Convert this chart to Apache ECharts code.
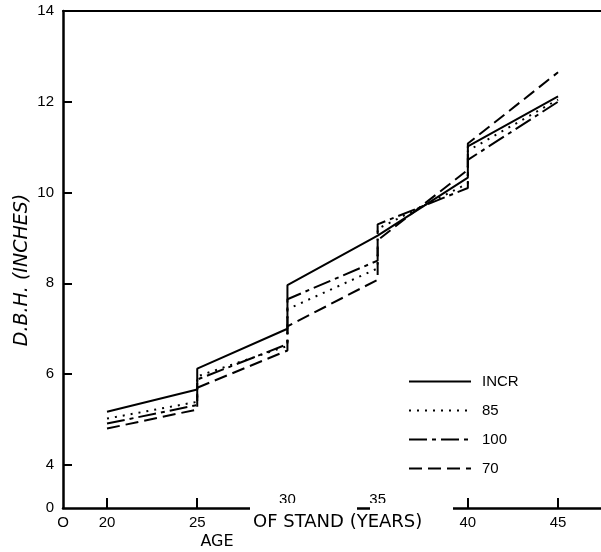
<!DOCTYPE html>
<html>
<head>
<meta charset="utf-8">
<script src="https://cdn.jsdelivr.net/npm/echarts@6/dist/echarts.min.js"></script>
<style>html,body{margin:0;padding:0;background:#fff}#c{width:601px;height:552px}</style>
</head>
<body>
<div id="c"></div>
<script>
// ---- data ----
const years = [20, 25, 25, 30, 30, 35, 35, 40, 40, 45];
const seriesNames = ['INCR', '85', '100', '70'];
const incr = [5.17, 5.66, 6.12, 7.00, 7.96, 9.05, 9.05, 10.33, 11.02, 12.12];
const s85  = [5.02, 5.39, 5.95, 6.62, 7.43, 8.33, 9.20, 10.20, 10.92, 12.05];
const s100 = [4.91, 5.32, 5.88, 6.66, 7.65, 8.50, 9.30, 10.10, 10.72, 12.00];
const s70  = [4.80, 5.22, 5.70, 6.52, 7.05, 8.08, 8.95, 10.50, 11.08, 12.65];
const xTicks = [20, 25, 30, 35, 40, 45];
const yTicks = [4, 6, 8, 10, 12, 14];
const xOriginLabel = 'O';
const yOriginLabel = '0';

// broken-axis origins
const X_MIN = 17.56, X_MAX = 47.38;
const Y_MIN = 3.05, Y_MAX = 14;

const font = 'Liberation Sans';
const pair = arr => years.map((x, i) => [x, arr[i]]);

const chart = echarts.init(document.getElementById('c'), null, {renderer: 'canvas'});
const lineBase = {type: 'line', symbol: 'none', smooth: false, animation: false, xAxisIndex: 0, yAxisIndex: 0};

chart.setOption({
  animation: false,
  backgroundColor: '#fff',
  grid: {left: 63, right: 0, top: 11, bottom: 44},
  xAxis: [
    {
      type: 'value', min: X_MIN, max: X_MAX, position: 'bottom',
      axisLine: {show: true, onZero: false, lineStyle: {color: '#000', width: 2.5}},
      axisTick: {show: true, inside: true, length: 10, customValues: [20, 25, 40, 45], lineStyle: {color: '#000', width: 2}},
      axisLabel: {customValues: [X_MIN, 20, 25, 40, 45], margin: 7, fontSize: 15, fontFamily: font, color: '#000',
        formatter: v => (v < 19 ? xOriginLabel : String(Math.round(v)))},
      splitLine: {show: false}
    },
    {
      type: 'value', min: X_MIN, max: X_MAX, position: 'bottom',
      axisLine: {show: false}, axisTick: {show: false},
      axisLabel: {inside: true, margin: 1, customValues: xTicks.filter(v => v === 30 || v === 35),
        fontSize: 15, fontFamily: font, color: '#000', formatter: v => String(v)},
      splitLine: {show: false}
    },
    {
      type: 'value', min: X_MIN, max: X_MAX, position: 'top',
      axisLine: {show: true, onZero: false, lineStyle: {color: '#000', width: 2}},
      axisTick: {show: false}, axisLabel: {show: false}, splitLine: {show: false}
    }
  ],
  yAxis: {
    type: 'value', min: Y_MIN, max: Y_MAX,
    axisLine: {show: true, onZero: false, lineStyle: {color: '#000', width: 2.5}},
    axisTick: {show: true, inside: true, length: 9, customValues: yTicks, lineStyle: {color: '#000', width: 2}},
    axisLabel: {customValues: [Y_MIN].concat(yTicks), margin: 9, fontSize: 15, fontFamily: font, color: '#000',
      formatter: v => (v < 3.5 ? yOriginLabel : String(Math.round(v)))},
    splitLine: {show: false}
  },
  legend: {
    data: seriesNames, orient: 'vertical', left: 403, top: 369,
    itemWidth: 62, itemHeight: 14, itemGap: 14,
    itemStyle: {opacity: 0},
    textStyle: {fontSize: 15, fontFamily: font, color: '#000', padding: [0, 0, 0, 6]},
    selectedMode: false
  },
  series: [
    Object.assign({}, lineBase, {name: seriesNames[0], data: pair(incr), z: 5,
      lineStyle: {color: '#000', width: 2, type: 'solid'}, itemStyle: {color: '#000'}}),
    Object.assign({}, lineBase, {name: seriesNames[1], data: pair(s85), z: 3,
      lineStyle: {color: '#000', width: 2, type: [2, 6]}, itemStyle: {color: '#000'}}),
    Object.assign({}, lineBase, {name: seriesNames[2], data: pair(s100), z: 3,
      lineStyle: {color: '#000', width: 2, type: [18, 5, 4, 5]}, itemStyle: {color: '#000'}}),
    Object.assign({}, lineBase, {name: seriesNames[3], data: pair(s70), z: 3,
      lineStyle: {color: '#000', width: 2, type: [13, 6]}, itemStyle: {color: '#000'}})
  ],
  graphic: [
    {type: 'rect', z: 100, shape: {x: 250, y: 503, width: 107, height: 10}, style: {fill: '#fff'}},
    {type: 'rect', z: 100, shape: {x: 370, y: 503, width: 83, height: 10}, style: {fill: '#fff'}},
    {type: 'text', z: 101, x: 253, y: 522,
      style: {text: 'OF STAND (YEARS)', font: '18px "DejaVu Sans"', fill: '#000', textVerticalAlign: 'middle'}},
    {type: 'text', z: 101, x: 217, y: 542,
      style: {text: 'AGE', font: '16px "DejaVu Sans"', fill: '#000', textAlign: 'center', textVerticalAlign: 'middle'}},
    {type: 'text', z: 101, x: 22, y: 270, rotation: Math.PI / 2,
      style: {text: 'D.B.H. (INCHES)', font: 'italic 19px "DejaVu Sans"', fill: '#000', textAlign: 'center', textVerticalAlign: 'middle'}}
  ]
});
</script>
</body>
</html>
